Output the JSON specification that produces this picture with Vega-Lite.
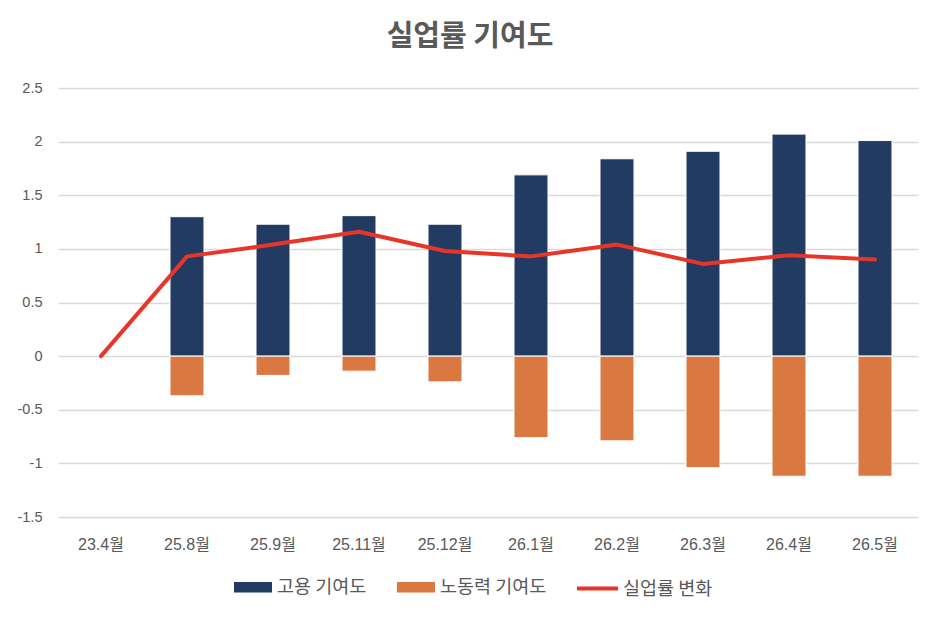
{
  "$schema": "https://vega.github.io/schema/vega-lite/v6.json",
  "autosize": "none",
  "width": 860,
  "height": 429,
  "padding": {"left": 58, "top": 88, "right": 22, "bottom": 105},
  "background": "white",
  "config": {
    "view": {"stroke": null},
    "font": "Noto Sans CJK KR",
    "axis": {"labelColor": "#595959"}
  },
  "title": {
    "text": "실업률 기여도",
    "font": "Noto Sans CJK KR",
    "fontSize": 29,
    "fontWeight": "bold",
    "color": "#595959",
    "anchor": "middle",
    "dx": -18,
    "offset": 28
  },
  "data": {
    "values": [
      {"month": "23.4월", "series": "실업률 변화", "value": 0},
      {"month": "25.8월", "series": "고용 기여도", "value": 1.30},
      {"month": "25.8월", "series": "노동력 기여도", "value": -0.37},
      {"month": "25.8월", "series": "실업률 변화", "value": 0.93},
      {"month": "25.9월", "series": "고용 기여도", "value": 1.23},
      {"month": "25.9월", "series": "노동력 기여도", "value": -0.18},
      {"month": "25.9월", "series": "실업률 변화", "value": 1.04},
      {"month": "25.11월", "series": "고용 기여도", "value": 1.31},
      {"month": "25.11월", "series": "노동력 기여도", "value": -0.14},
      {"month": "25.11월", "series": "실업률 변화", "value": 1.16},
      {"month": "25.12월", "series": "고용 기여도", "value": 1.23},
      {"month": "25.12월", "series": "노동력 기여도", "value": -0.24},
      {"month": "25.12월", "series": "실업률 변화", "value": 0.98},
      {"month": "26.1월", "series": "고용 기여도", "value": 1.69},
      {"month": "26.1월", "series": "노동력 기여도", "value": -0.76},
      {"month": "26.1월", "series": "실업률 변화", "value": 0.93},
      {"month": "26.2월", "series": "고용 기여도", "value": 1.84},
      {"month": "26.2월", "series": "노동력 기여도", "value": -0.79},
      {"month": "26.2월", "series": "실업률 변화", "value": 1.04},
      {"month": "26.3월", "series": "고용 기여도", "value": 1.91},
      {"month": "26.3월", "series": "노동력 기여도", "value": -1.04},
      {"month": "26.3월", "series": "실업률 변화", "value": 0.86},
      {"month": "26.4월", "series": "고용 기여도", "value": 2.07},
      {"month": "26.4월", "series": "노동력 기여도", "value": -1.12},
      {"month": "26.4월", "series": "실업률 변화", "value": 0.94},
      {"month": "26.5월", "series": "고용 기여도", "value": 2.01},
      {"month": "26.5월", "series": "노동력 기여도", "value": -1.12},
      {"month": "26.5월", "series": "실업률 변화", "value": 0.90}
    ]
  },
  "encoding": {
    "x": {
      "field": "month",
      "type": "nominal",
      "sort": ["23.4월", "25.8월", "25.9월", "25.11월", "25.12월", "26.1월", "26.2월", "26.3월", "26.4월", "26.5월"],
      "scale": {"paddingInner": 0.605, "paddingOuter": 0.3025},
      "axis": {
        "title": null,
        "labelAngle": 0,
        "domain": false,
        "ticks": false,
        "labelFont": "Liberation Sans, Noto Sans CJK KR",
        "labelFontSize": 16,
        "labelPadding": 19
      }
    },
    "y": {
      "field": "value",
      "type": "quantitative",
      "scale": {"domain": [-1.5, 2.5], "nice": false, "zero": false},
      "axis": {
        "title": null,
        "values": [-1.5, -1, -0.5, 0, 0.5, 1, 1.5, 2, 2.5],
        "labelExpr": "'' + datum.value",
        "domain": false,
        "ticks": false,
        "grid": true,
        "gridColor": "#d9d9d9",
        "gridWidth": 1.3,
        "labelFont": "Liberation Sans",
        "labelFontSize": 14.5,
        "labelPadding": 16
      }
    }
  },
  "layer": [
    {
      "transform": [{"filter": "datum.series !== '실업률 변화'"}],
      "mark": {"type": "bar", "stroke": "white", "strokeWidth": 1},
      "encoding": {
        "y": {"field": "value", "type": "quantitative", "stack": null},
        "fill": {
          "field": "series",
          "type": "nominal",
          "scale": {"domain": ["고용 기여도", "노동력 기여도"], "range": ["#213B62", "#D97841"]},
          "legend": {
            "title": null,
            "orient": "none",
            "direction": "horizontal",
            "legendX": 176,
            "legendY": 480,
            "symbolType": "M-1,-0.27H1V0.27H-1Z",
            "symbolSize": 1444,
            "symbolStrokeWidth": 0,
            "labelFont": "Noto Sans CJK KR",
            "labelFontSize": 18.5,
            "labelColor": "#595959",
            "labelOffset": 5,
            "columnPadding": 30
          }
        }
      }
    },
    {
      "transform": [{"filter": "datum.series === '실업률 변화'"}],
      "mark": {"type": "line", "strokeWidth": 4, "strokeJoin": "round", "strokeCap": "round"},
      "encoding": {
        "stroke": {
          "field": "series",
          "type": "nominal",
          "scale": {"domain": ["실업률 변화"], "range": ["#E8352A"]},
          "legend": {
            "title": null,
            "orient": "none",
            "legendX": 517,
            "legendY": 478,
            "symbolType": "stroke",
            "symbolSize": 1681,
            "symbolStrokeWidth": 4,
            "labelFont": "Noto Sans CJK KR",
            "labelFontSize": 18.5,
            "labelColor": "#595959",
            "labelOffset": 3
          }
        }
      }
    }
  ]
}
